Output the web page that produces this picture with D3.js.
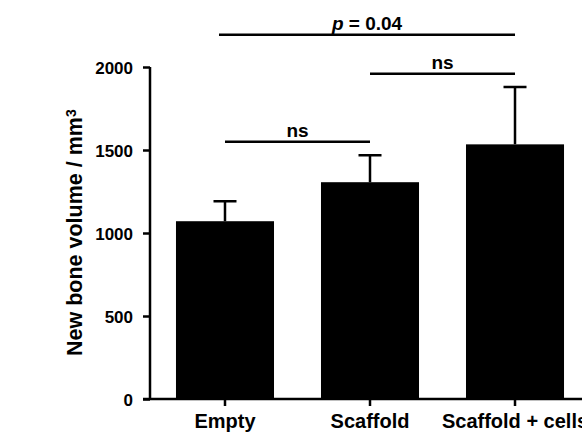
<!DOCTYPE html>
<meta charset="utf-8">
<style>

body {
  margin: 0;
  background: #fff;
}

svg text {
  font-family: "Liberation Sans", Arial, sans-serif;
  font-weight: bold;
  fill: #000;
}

.bar {
  fill: #000;
}

.err, .sig {
  stroke: #000;
  stroke-width: 2.5;
  fill: none;
}

</style>
<body>
<script src="https://d3js.org/d3.v7.min.js"></script>
<script>

var groups = ["Empty", "Scaffold", "Scaffold + cells"];
var means = [1071, 1306, 1534];
var sems = [120, 162, 345];
var yTicks = [0, 500, 1000, 1500, 2000];

// comparisons: [from group, to group, label, level]
var comparisons = [
  ["Empty", "Scaffold", "ns", 1550],
  ["Scaffold", "Scaffold + cells", "ns", 1960],
  ["Empty", "Scaffold + cells", "p = 0.04", 2195]
];

var width = 582,
    height = 432;

var svg = d3.select("body").append("svg")
    .attr("width", width)
    .attr("height", height);

var x = d3.scaleBand()
    .domain(groups)
    .range([129, 611])
    .padding(0.324);

var y = d3.scaleLinear()
    .domain([0, 2000])
    .range([399, 67]);

var axisX = 150;

// bars
svg.selectAll(".bar")
    .data(groups)
  .enter().append("rect")
    .attr("class", "bar")
    .attr("x", function(d) { return x(d) })
    .attr("width", x.bandwidth())
    .attr("y", function(d, i) { return y(means[i]) })
    .attr("height", function(d, i) { return y(0) - y(means[i]) });

// error bars (upper only)
var cap = 23;
groups.forEach(function(g, i) {
  var cx = x(g) + x.bandwidth() / 2;
  svg.append("path")
    .attr("class", "err")
    .attr("d", "M" + cx + "," + y(means[i]) + "V" + y(means[i] + sems[i]) +
               "M" + (cx - cap / 2) + "," + y(means[i] + sems[i]) + "H" + (cx + cap / 2));
});

// y axis
var yAxis = svg.append("g")
    .attr("transform", "translate(" + axisX + ",0)")
    .call(d3.axisLeft(y).tickValues(yTicks).tickSize(7).tickPadding(10).tickFormat(d3.format("d")));

yAxis.select(".domain").attr("d", "M0," + y(2000) + "V" + y(0));
yAxis.selectAll("line, path").attr("stroke", "#000").attr("stroke-width", 2.5);
yAxis.selectAll("text")
    .attr("dy", "0.36em")
    .style("font-size", "17px")
    .style("font-family", "'Liberation Sans', Arial, sans-serif")
    .style("font-weight", "bold");

// x axis
var xAxis = svg.append("g")
    .attr("transform", "translate(0," + y(0) + ")")
    .call(d3.axisBottom(x).tickSize(7).tickPadding(8));

xAxis.select(".domain").attr("d", "M" + (axisX - 7) + ",0H" + (width + 10));
xAxis.selectAll("line, path").attr("stroke", "#000").attr("stroke-width", 2.5);
xAxis.selectAll("text")
    .style("font-size", "20px")
    .style("font-family", "'Liberation Sans', Arial, sans-serif")
    .style("font-weight", "bold");

// y label
svg.append("text")
    .attr("transform", "translate(82,356) rotate(-90)")
    .attr("text-anchor", "start")
    .style("font-size", "21.5px")
    .text("New bone volume / mm")
  .append("tspan")
    .attr("dy", "-0.45em")
    .style("font-size", "14px")
    .text("3");

// significance bars
comparisons.forEach(function(c) {
  var x1 = x(c[0]) + x.bandwidth() / 2,
      x2 = x(c[1]) + x.bandwidth() / 2,
      ly = y(c[3]);
  if (c[0] == "Empty" && c[1] == "Scaffold + cells") x1 -= 6;
  svg.append("path")
      .attr("class", "sig")
      .attr("d", "M" + x1 + "," + ly + "H" + x2);
  var t = svg.append("text")
      .attr("x", (x1 + x2) / 2)
      .attr("y", ly - 5)
      .attr("text-anchor", "middle")
      .style("font-size", "19px");
  if (c[2].indexOf("p") == 0) {
    t.append("tspan").style("font-style", "italic").text("p");
    t.append("tspan").text(c[2].slice(1));
  } else {
    t.text(c[2]);
  }
});

</script>
